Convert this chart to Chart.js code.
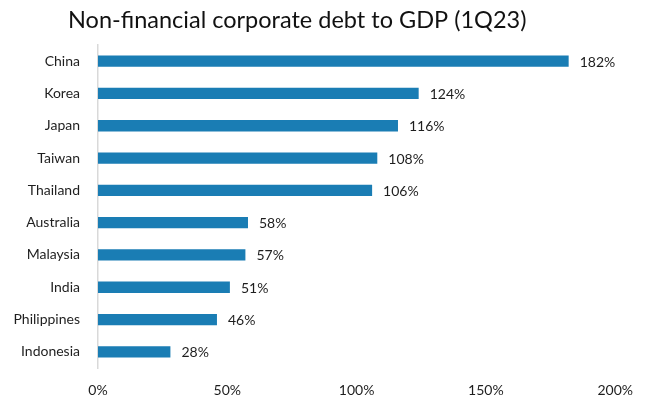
<!DOCTYPE html>
<html>
<head>
<meta charset="utf-8">
<script src="https://cdn.jsdelivr.net/npm/chart.js@4/dist/chart.umd.min.js"></script>
<style>
  html, body { margin: 0; padding: 0; background: #ffffff; }
  canvas { display: block; }
</style>
</head>
<body>
<canvas id="chart" width="647" height="399"></canvas>
<script>
// Non-financial corporate debt as a share of GDP, 1Q23
const countries = ['China', 'Korea', 'Japan', 'Taiwan', 'Thailand', 'Australia', 'Malaysia', 'India', 'Philippines', 'Indonesia'];
const debtToGdp = [182, 124, 116, 108, 106, 58, 57, 51, 46, 28];
const axisTicks = [0, 50, 100, 150, 200];
const titleText = 'Non-financial corporate debt to GDP (1Q23)';

const FONT = 'Lato, "Open Sans", sans-serif';
const TEXT = '#1e1e1e';
const BAR = '#1a7db4';

// Title drawn left-aligned above the plot
const titlePlugin = {
  id: 'leftTitle',
  afterDraw(chart) {
    const ctx = chart.ctx;
    ctx.save();
    ctx.font = '23.5px ' + FONT;
    ctx.fillStyle = '#111111';
    ctx.textAlign = 'left';
    ctx.textBaseline = 'middle';
    ctx.fillText(titleText, 68, 20);
    ctx.restore();
  }
};

// Value labels at the end of each bar
const valueLabels = {
  id: 'valueLabels',
  afterDatasetsDraw(chart) {
    const ctx = chart.ctx;
    const meta = chart.getDatasetMeta(0);
    ctx.save();
    ctx.font = '14px ' + FONT;
    ctx.fillStyle = TEXT;
    ctx.textAlign = 'left';
    ctx.textBaseline = 'middle';
    meta.data.forEach((bar, i) => {
      ctx.fillText(debtToGdp[i] + '%', bar.x + 11, bar.y + 1);
    });
    ctx.restore();
  }
};

new Chart(document.getElementById('chart'), {
  type: 'bar',
  data: {
    labels: countries,
    datasets: [{
      data: debtToGdp,
      backgroundColor: BAR,
      borderWidth: 0,
      barPercentage: 0.35,
      categoryPercentage: 1
    }]
  },
  options: {
    indexAxis: 'y',
    responsive: false,
    animation: false,
    devicePixelRatio: 1,
    layout: { padding: { top: 45, right: 29, left: 0, bottom: 0 } },
    plugins: {
      legend: { display: false },
      title: { display: false },
      tooltip: { enabled: false }
    },
    scales: {
      x: {
        min: axisTicks[0],
        max: axisTicks[axisTicks.length - 1],
        afterBuildTicks(scale) {
          scale.ticks = axisTicks.map(v => ({ value: v }));
        },
        afterFit(scale) { scale.height = 31; },
        grid: { display: false, drawTicks: false },
        border: { display: false },
        ticks: {
          padding: 14,
          color: TEXT,
          font: { family: FONT, size: 14 },
          callback: v => v + '%',
          maxRotation: 0
        }
      },
      y: {
        afterFit(scale) { scale.width = 98; },
        grid: { display: false, drawTicks: false },
        border: { display: true, color: '#d9d9d9', width: 1.5 },
        ticks: {
          padding: 18,
          color: TEXT,
          font: { family: FONT, size: 14 }
        }
      }
    }
  },
  plugins: [titlePlugin, valueLabels]
});
</script>
</body>
</html>
